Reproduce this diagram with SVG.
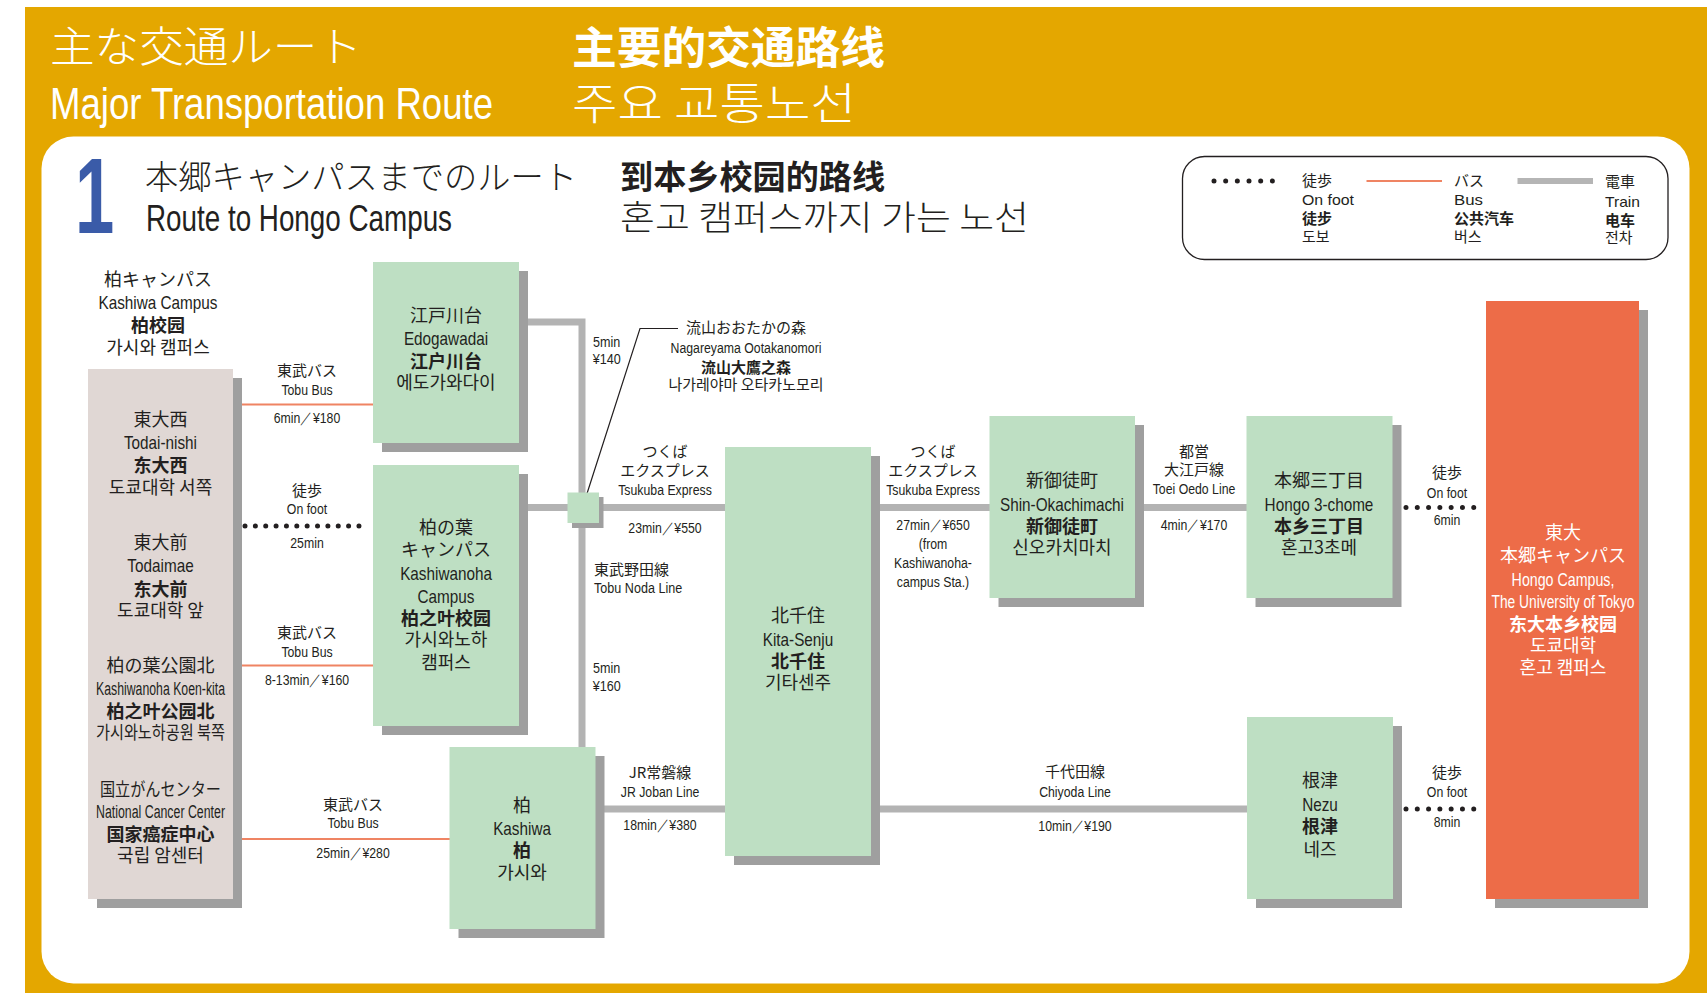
<svg xmlns="http://www.w3.org/2000/svg" width="1707" height="993" viewBox="0 0 1707 993">
<style>
text{fill:#231f20}
.j{font-family:"Noto Sans CJK JP",sans-serif}
.c{font-family:"Noto Sans CJK SC",sans-serif;font-weight:700}
.k{font-family:"Noto Sans CJK KR",sans-serif}
.e{font-family:"Liberation Sans Narrow","Liberation Sans",sans-serif}
.lt{font-weight:300}
.n{font-size:18px;text-anchor:middle}
.s{font-size:15px;text-anchor:middle}
.st{font-size:15px}
.x{transform-box:fill-box;transform-origin:50% 50%;transform:scaleX(.85)}
.xs{transform-box:fill-box;transform-origin:50% 50%;transform:scaleX(.82)}
.xl{transform-box:fill-box;transform-origin:0 50%;transform:scaleX(.84)}
.xr{transform-box:fill-box;transform-origin:50% 50%;transform:scaleX(.79)}
text.w{fill:#fff}
.box{fill:#bedfc3}
.sh{fill:#9f9f9f}
.rail{stroke:#b3b3b3;stroke-width:7;fill:none}
.bus{stroke:#ef8463;stroke-width:2;fill:none}
.walk{stroke:#231f20;stroke-width:5;stroke-linecap:round;fill:none}
</style>
<rect x="0" y="0" width="1707" height="993" fill="#ffffff"/>
<rect x="25" y="7" width="1682" height="986" fill="#e4a700"/>
<rect x="41.5" y="136.5" width="1648" height="847" rx="32" fill="#ffffff"/>

<g id="header">
<text class="j w lt" x="50" y="62" font-size="42" textLength="312" lengthAdjust="spacingAndGlyphs">主な交通ルート</text>
<text class="e w" x="50" y="119" font-size="44" textLength="443" lengthAdjust="spacingAndGlyphs">Major Transportation Route</text>
<text class="c w" x="572" y="64" font-size="44" textLength="313" lengthAdjust="spacingAndGlyphs">主要的交通路线</text>
<text class="k w lt" x="572" y="120" font-size="44" textLength="284" lengthAdjust="spacingAndGlyphs">주요 교통노선</text>
<text x="0" y="0" transform="translate(75,233) scale(0.66,1)" font-family="Liberation Sans" font-weight="700" font-size="107" style="fill:#3a5ba8">1</text>
<text class="j lt" x="145" y="189" font-size="33" textLength="432" lengthAdjust="spacingAndGlyphs">本郷キャンパスまでのルート</text>
<text class="e" x="146" y="231" font-size="36" textLength="306" lengthAdjust="spacingAndGlyphs">Route to Hongo Campus</text>
<text class="c" x="620" y="189" font-size="33" textLength="265" lengthAdjust="spacingAndGlyphs">到本乡校园的路线</text>
<text class="k lt" x="620" y="230" font-size="34" textLength="409" lengthAdjust="spacingAndGlyphs">혼고 캠퍼스까지 가는 노선</text>
</g>

<g id="legend">
<rect x="1182.5" y="156.5" width="485.5" height="103" rx="22" fill="#fff" stroke="#231f20" stroke-width="1.3"/>
<line class="walk" x1="1214" y1="181" x2="1284" y2="181" stroke-width="4.5" stroke-dasharray="0 11.67"/>
<text class="j st" x="1302" y="186">徒歩</text>
<text class="e st" x="1302" y="205" font-size="16" textLength="52" lengthAdjust="spacingAndGlyphs">On foot</text>
<text class="c st" x="1302" y="224">徒步</text>
<text class="k st" x="1302" y="242">도보</text>
<line class="bus" x1="1366.5" y1="181" x2="1442" y2="181"/>
<text class="j st" x="1454" y="186">バス</text>
<text class="e st" x="1454" y="205" font-size="16" textLength="29" lengthAdjust="spacingAndGlyphs">Bus</text>
<text class="c st" x="1454" y="224">公共汽车</text>
<text class="k st" x="1454" y="242">버스</text>
<line x1="1517.5" y1="181" x2="1593" y2="181" stroke="#b5b5b5" stroke-width="6"/>
<text class="j st" x="1605" y="187">電車</text>
<text class="e st" x="1605" y="207" font-size="16" textLength="35" lengthAdjust="spacingAndGlyphs">Train</text>
<text class="c st" x="1605" y="226">电车</text>
<text class="k st" x="1605" y="243">전차</text>
</g>

<g id="connectors">
<polyline class="rail" points="519,322 582,322 582,748"/>
<line class="rail" x1="519" y1="507.5" x2="726" y2="507.5"/>
<line class="rail" x1="871" y1="507.5" x2="990" y2="507.5"/>
<line class="rail" x1="1135" y1="507.5" x2="1247" y2="507.5"/>
<line class="rail" x1="595" y1="809" x2="726" y2="809"/>
<line class="rail" x1="871" y1="809" x2="1248" y2="809"/>
<line class="bus" x1="242" y1="404.5" x2="373" y2="404.5"/>
<line class="bus" x1="242" y1="665.5" x2="373" y2="665.5"/>
<line class="bus" x1="242" y1="839" x2="450" y2="839"/>
<line class="walk" x1="245" y1="526" x2="369.3" y2="526" stroke-dasharray="0 10.36"/>
<line class="walk" x1="1406" y1="507.5" x2="1485" y2="507.5" stroke-dasharray="0 11.29"/>
<line class="walk" x1="1406" y1="809" x2="1485" y2="809" stroke-dasharray="0 11.29"/>
<polyline points="583,506 640,328.5 678,328.5" fill="none" stroke="#231f20" stroke-width="1.2"/>
</g>

<g id="labels">
<text class="j s" x="307" y="376">東武バス</text>
<text class="e s xs" x="307" y="395">Tobu Bus</text>
<text class="e s xs" x="307" y="423">6min／¥180</text>
<text class="j s" x="307" y="496">徒歩</text>
<text class="e s xs" x="307" y="514">On foot</text>
<text class="e s xs" x="307" y="548">25min</text>
<text class="j s" x="307" y="638">東武バス</text>
<text class="e s xs" x="307" y="657">Tobu Bus</text>
<text class="e s xs" x="307" y="685">8-13min／¥160</text>
<text class="j s" x="353" y="810">東武バス</text>
<text class="e s xs" x="353" y="828">Tobu Bus</text>
<text class="e s xs" x="353" y="858">25min／¥280</text>
<text class="e st xl" x="593" y="347">5min</text>
<text class="e st xl" x="593" y="364">¥140</text>
<text class="j st" x="594" y="575">東武野田線</text>
<text class="e st xl" x="594" y="593">Tobu Noda Line</text>
<text class="e st xl" x="593" y="673">5min</text>
<text class="e st xl" x="593" y="691">¥160</text>
<text class="j s" x="665" y="457">つくば</text>
<text class="j s" x="665" y="476">エクスプレス</text>
<text class="e s xs" x="665" y="495">Tsukuba Express</text>
<text class="e s xs" x="665" y="533">23min／¥550</text>
<text class="j s" x="933" y="457">つくば</text>
<text class="j s" x="933" y="476">エクスプレス</text>
<text class="e s xs" x="933" y="495">Tsukuba Express</text>
<text class="e s xs" x="933" y="530">27min／¥650</text>
<text class="e s xs" x="933" y="549">(from</text>
<text class="e s xs" x="933" y="568">Kashiwanoha-</text>
<text class="e s xs" x="933" y="587">campus Sta.)</text>
<text class="j s" x="1194" y="457">都営</text>
<text class="j s" x="1194" y="475">大江戸線</text>
<text class="e s xs" x="1194" y="494">Toei Oedo Line</text>
<text class="e s xs" x="1194" y="530">4min／¥170</text>
<text class="j s" x="1447" y="478">徒歩</text>
<text class="e s xs" x="1447" y="498">On foot</text>
<text class="e s xs" x="1447" y="525">6min</text>
<text class="j s" x="660" y="778">JR常磐線</text>
<text class="e s xs" x="660" y="797">JR Joban Line</text>
<text class="e s xs" x="660" y="830">18min／¥380</text>
<text class="j s" x="1075" y="777">千代田線</text>
<text class="e s xs" x="1075" y="797">Chiyoda Line</text>
<text class="e s xs" x="1075" y="831">10min／¥190</text>
<text class="j s" x="1447" y="778">徒歩</text>
<text class="e s xs" x="1447" y="797">On foot</text>
<text class="e s xs" x="1447" y="827">8min</text>
</g>

<g id="node-kashiwa-campus">
<text class="j n" x="158" y="286">柏キャンパス</text>
<text class="e n x" x="158" y="309">Kashiwa Campus</text>
<text class="c n" x="158" y="332">柏校园</text>
<text class="k n" x="158" y="354">가시와 캠퍼스</text>
<rect class="sh" x="97" y="378" width="145" height="530"/>
<rect x="88" y="369" width="145" height="530" fill="#e0d7d4"/>
<text class="j n" x="160.5" y="426">東大西</text>
<text class="e n x" x="160.5" y="449">Todai-nishi</text>
<text class="c n" x="160.5" y="472">东大西</text>
<text class="k n" x="160.5" y="494">도쿄대학 서쪽</text>
<text class="j n" x="160.5" y="549">東大前</text>
<text class="e n x" x="160.5" y="572">Todaimae</text>
<text class="c n" x="160.5" y="596">东大前</text>
<text class="k n" x="160.5" y="617">도쿄대학 앞</text>
<text class="j n" x="160.5" y="672">柏の葉公園北</text>
<text class="e n" x="160.5" y="695" font-size="17" textLength="129" lengthAdjust="spacingAndGlyphs">Kashiwanoha Koen-kita</text>
<text class="c n" x="160.5" y="718">柏之叶公园北</text>
<text class="k n" x="160.5" y="739" textLength="129" lengthAdjust="spacingAndGlyphs">가시와노하공원 북쪽</text>
<text class="j n" x="160.5" y="796" textLength="121" lengthAdjust="spacingAndGlyphs">国立がんセンター</text>
<text class="e n" x="160.5" y="818" font-size="17" textLength="129" lengthAdjust="spacingAndGlyphs">National Cancer Center</text>
<text class="c n" x="160.5" y="841">国家癌症中心</text>
<text class="k n" x="160.5" y="862">국립 암센터</text>
</g>

<g id="node-edogawadai">
<rect class="sh" x="382" y="271" width="146" height="181"/>
<rect class="box" x="373" y="262" width="146" height="181"/>
<text class="j n" x="446" y="322">江戸川台</text>
<text class="e n x" x="446" y="345">Edogawadai</text>
<text class="c n" x="446" y="368">江户川台</text>
<text class="k n" x="446" y="389">에도가와다이</text>
</g>

<g id="node-kashiwanoha">
<rect class="sh" x="382" y="474" width="146" height="261"/>
<rect class="box" x="373" y="465" width="146" height="261"/>
<text class="j n" x="446" y="534">柏の葉</text>
<text class="j n" x="446" y="556">キャンパス</text>
<text class="e n x" x="446" y="580">Kashiwanoha</text>
<text class="e n x" x="446" y="603">Campus</text>
<text class="c n" x="446" y="625">柏之叶校园</text>
<text class="k n" x="446" y="646">가시와노하</text>
<text class="k n" x="446" y="669">캠퍼스</text>
</g>

<g id="node-kashiwa">
<rect class="sh" x="458.5" y="756" width="146" height="182"/>
<rect class="box" x="449.5" y="747" width="146" height="182"/>
<text class="j n" x="522" y="812">柏</text>
<text class="e n x" x="522" y="835">Kashiwa</text>
<text class="c n" x="522" y="857">柏</text>
<text class="k n" x="522" y="879">가시와</text>
</g>

<g id="node-nagareyama">
<rect class="sh" x="572" y="497" width="31.5" height="31"/>
<rect class="box" x="567.5" y="492.5" width="31.5" height="30.5"/>
<text class="j s" x="746" y="333">流山おおたかの森</text>
<text class="e s xs" x="746" y="353">Nagareyama Ootakanomori</text>
<text class="c s" x="746" y="373">流山大鷹之森</text>
<text class="k s" x="746" y="390">나가레야마 오타카노모리</text>
</g>

<g id="node-kitasenju">
<rect class="sh" x="734" y="456" width="146" height="409"/>
<rect class="box" x="725" y="447" width="146" height="409"/>
<text class="j n" x="798" y="622">北千住</text>
<text class="e n x" x="798" y="646">Kita-Senju</text>
<text class="c n" x="798" y="668">北千住</text>
<text class="k n" x="798" y="689">기타센주</text>
</g>

<g id="node-shinokachimachi">
<rect class="sh" x="998.5" y="425" width="145.5" height="182"/>
<rect class="box" x="989.5" y="416" width="145.5" height="182"/>
<text class="j n" x="1062" y="487">新御徒町</text>
<text class="e n x" x="1062" y="511">Shin-Okachimachi</text>
<text class="c n" x="1062" y="533">新御徒町</text>
<text class="k n" x="1062" y="554">신오카치마치</text>
</g>

<g id="node-hongo3">
<rect class="sh" x="1255.5" y="425" width="146" height="182"/>
<rect class="box" x="1246.5" y="416" width="146" height="182"/>
<text class="j n" x="1319" y="487">本郷三丁目</text>
<text class="e n x" x="1319" y="511">Hongo 3-chome</text>
<text class="c n" x="1319" y="533">本乡三丁目</text>
<text class="k n" x="1319" y="554">혼고3초메</text>
</g>

<g id="node-nezu">
<rect class="sh" x="1256" y="726" width="146" height="182"/>
<rect class="box" x="1247" y="717" width="146" height="182"/>
<text class="j n" x="1320" y="787">根津</text>
<text class="e n x" x="1320" y="811">Nezu</text>
<text class="c n" x="1320" y="833">根津</text>
<text class="k n" x="1320" y="856">네즈</text>
</g>

<g id="node-hongo-campus">
<rect class="sh" x="1495" y="310" width="153" height="598"/>
<rect x="1486" y="301" width="153" height="598" fill="#ed6c48"/>
<text class="j n w" x="1563" y="539">東大</text>
<text class="j n w" x="1563" y="562">本郷キャンパス</text>
<text class="e n w xr" x="1563" y="586">Hongo Campus,</text>
<text class="e n w" x="1563" y="608" textLength="143" lengthAdjust="spacingAndGlyphs">The University of Tokyo</text>
<text class="c n w" x="1563" y="631">东大本乡校园</text>
<text class="k n w" x="1563" y="652">도쿄대학</text>
<text class="k n w" x="1563" y="674">혼고 캠퍼스</text>
</g>
</svg>
